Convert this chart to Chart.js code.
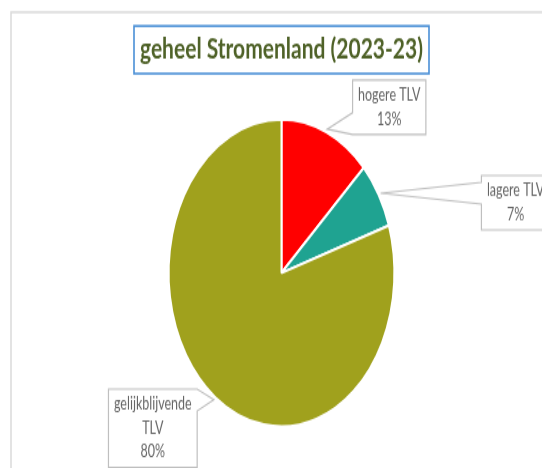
<!DOCTYPE html>
<html lang="nl">
<head>
<meta charset="UTF-8">
<title>geheel Stromenland</title>
<script src="https://cdn.jsdelivr.net/npm/chart.js"></script>
<style>
  html, body { margin: 0; padding: 0; background: #fff; }
  #wrap { width: 542px; height: 468px; }
  /* the original picture is stretched vertically: draw flat, show stretched */
  #pie { width: 542px !important; height: 468px !important; }
</style>
</head>
<body>
<div id="wrap"><canvas id="pie" width="542" height="344"></canvas></div>
<script>
const chartTitle = 'geheel Stromenland (2023-23)';
const categories = ['hogere TLV', 'lagere TLV', 'gelijkblijvende TLV'];
const values = [13, 7, 80];
const sliceColors = ['#ff0000', '#1fa391', '#a0a11d'];
// where each callout box sits, relative to the tip of its pointer
const labelOffsets = [[62, -16], [135, 7], [-61, 21]];

const labelFont = '12.5px Lato';
const titleFont = { family: 'Lato', size: 21, weight: 'bold' };

function wrapText(ctx, text, maxW) {
  if (ctx.measureText(text).width <= maxW) return [text];
  const words = text.split(' ');
  const lines = [];
  let cur = '';
  words.forEach(w => {
    const test = cur ? cur + ' ' + w : w;
    if (cur && ctx.measureText(test).width > maxW) { lines.push(cur); cur = w; }
    else cur = test;
  });
  if (cur) lines.push(cur);
  return lines;
}

const framePlugin = {
  id: 'frame',
  beforeDraw(chart) {
    const ctx = chart.ctx;
    ctx.save();
    ctx.strokeStyle = '#dadada';
    ctx.lineWidth = 1.5;
    ctx.beginPath();
    ctx.moveTo(11, chart.height);
    ctx.lineTo(11, 9);
    ctx.lineTo(chart.width, 9);
    ctx.stroke();
    ctx.restore();
  },
  afterDraw(chart) {
    // blue box round the title
    const ctx = chart.ctx;
    const tb = chart.titleBlock;
    ctx.save();
    ctx.font = 'bold ' + titleFont.size + 'px ' + titleFont.family;
    const w = ctx.measureText(chartTitle).width;
    const cx = (tb.left + tb.right) / 2;
    const cy = tb.top + 24 + titleFont.size * 0.6;
    ctx.strokeStyle = '#4a8fd6';
    ctx.lineWidth = 1.6;
    ctx.strokeRect(cx - w / 2 - 6, cy - 17.5, w + 12, 35);
    ctx.restore();
  }
};

const calloutPlugin = {
  id: 'callouts',
  afterDatasetsDraw(chart) {
    const ctx = chart.ctx;
    const ds = chart.data.datasets[0];
    const total = ds.data.reduce((a, b) => a + b, 0);
    const arcs = chart.getDatasetMeta(0).data;
    ctx.save();
    ctx.font = labelFont;
    arcs.forEach((arc, i) => {
      const p = arc.getProps(['x', 'y', 'startAngle', 'endAngle', 'outerRadius'], true);
      const mid = (p.startAngle + p.endAngle) / 2;
      const tx = p.x + Math.cos(mid) * p.outerRadius * 1.02;
      const ty = p.y + Math.sin(mid) * p.outerRadius * 1.02;
      const lines = wrapText(ctx, chart.data.labels[i], 85);
      lines.push(Math.round(ds.data[i] / total * 100) + '%');
      const tw = Math.max(...lines.map(l => ctx.measureText(l).width));
      const lineH = 17.5;
      const bw = tw + 11;
      const bh = lines.length * lineH + 5;
      const cx = tx + labelOffsets[i][0];
      const cy = ty + labelOffsets[i][1];
      const l = cx - bw / 2, r = cx + bw / 2, t = cy - bh / 2, b = cy + bh / 2;
      const hw = 8;
      const clamp = (v, lo, hi) => Math.max(lo, Math.min(hi, v));
      // outline with a wedge pointing at the slice
      let pts;
      if (tx < l) {
        const c = clamp(ty, t + hw, b - hw);
        pts = [[l, t], [r, t], [r, b], [l, b], [l, c + hw], [tx, ty], [l, c - hw]];
      } else if (tx > r) {
        const c = clamp(ty, t + hw, b - hw);
        pts = [[l, t], [r, t], [r, c - hw], [tx, ty], [r, c + hw], [r, b], [l, b]];
      } else if (ty < t) {
        const c = clamp(tx, l + hw, r - hw);
        pts = [[l, t], [c - hw, t], [tx, ty], [c + hw, t], [r, t], [r, b], [l, b]];
      } else {
        const c = clamp(tx, l + hw, r - hw);
        pts = [[l, t], [r, t], [r, b], [c + hw, b], [tx, ty], [c - hw, b], [l, b]];
      }
      ctx.beginPath();
      pts.forEach((pt, k) => k ? ctx.lineTo(pt[0], pt[1]) : ctx.moveTo(pt[0], pt[1]));
      ctx.closePath();
      ctx.fillStyle = '#ffffff';
      ctx.fill();
      ctx.strokeStyle = '#bfbfbf';
      ctx.lineWidth = 1.2;
      ctx.stroke();
      ctx.fillStyle = '#666666';
      ctx.textAlign = 'center';
      ctx.textBaseline = 'middle';
      lines.forEach((ln, k) => {
        ctx.fillText(ln, cx, t + 2.5 + lineH * (k + 0.5));
      });
    });
    ctx.restore();
  }
};

new Chart(document.getElementById('pie'), {
  type: 'pie',
  data: {
    labels: categories,
    datasets: [{
      data: values,
      backgroundColor: sliceColors,
      borderColor: '#ffffff',
      borderWidth: 2
    }]
  },
  options: {
    responsive: false,
    animation: false,
    layout: { padding: { left: 21, right: 0, top: 0, bottom: 29.5 } },
    plugins: {
      legend: { display: false },
      tooltip: { enabled: false },
      title: {
        display: true,
        text: chartTitle,
        color: '#4f6228',
        font: titleFont,
        padding: { top: 24, bottom: 37.5 }
      }
    }
  },
  plugins: [framePlugin, calloutPlugin]
});
</script>
</body>
</html>
